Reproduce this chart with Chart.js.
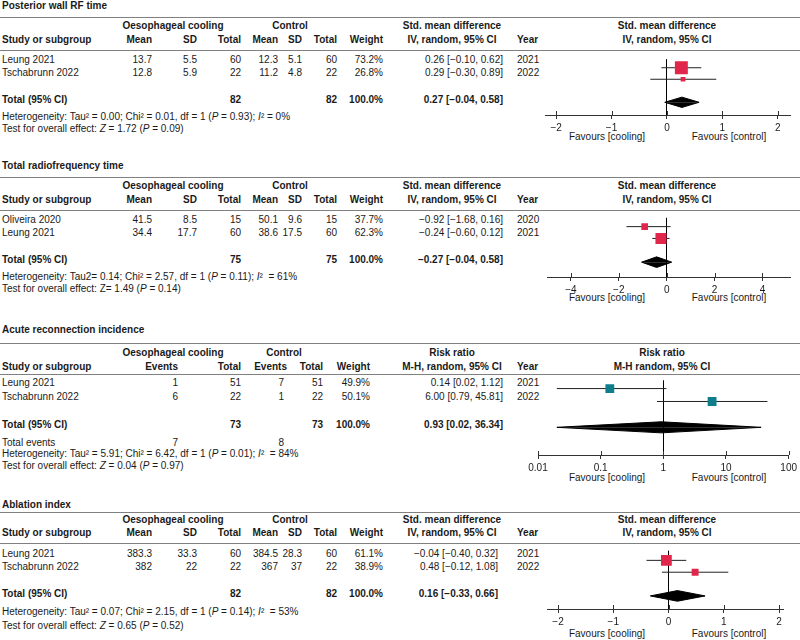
<!DOCTYPE html>
<html lang="en">
<head>
  <meta charset="utf-8">
  <title>Oesophageal cooling vs control</title>
  <script src="https://cdn.jsdelivr.net/npm/chart.js"></script>
  <style>
    body { margin: 0; background: #fff; }
    #page { position: relative; width: 800px; height: 640px; overflow: hidden;
            font-family: "Liberation Sans", Arial, Helvetica, sans-serif; font-size: 10px; color: #1a1a1a; }
    .t { position: absolute; white-space: nowrap; line-height: 12px; }
    .b { font-weight: bold; }
    .hr { position: absolute; left: 0; width: 800px; height: 1px; background: #808080; }
    canvas { position: absolute; }
  </style>
</head>
<body>
<div id="page"></div>

<script>
// ---- Posterior wall RF time
const p1Studies = ['Leung 2021', 'Tschabrunn 2022'];
const p1CoolMean = [13.7, 12.8];
const p1CoolSD = [5.5, 5.9];
const p1CoolN = [60, 22];
const p1CtrlMean = [12.3, 11.2];
const p1CtrlSD = [5.1, 4.8];
const p1CtrlN = [60, 22];
const p1Weight = [73.2, 26.8];
const p1Est = [0.26, 0.29];
const p1Lo = [-0.10, -0.30];
const p1Hi = [0.62, 0.89];
const p1Year = [2021, 2022];
const p1Pooled = [0.27, -0.04, 0.58];     // estimate, lower, upper
const p1Totals = [82, 82];
const p1Ticks = [-2, -1, 0, 1, 2];

// ---- Total radiofrequency time
const p2Studies = ['Oliveira 2020', 'Leung 2021'];
const p2CoolMean = [41.5, 34.4];
const p2CoolSD = [8.5, 17.7];
const p2CoolN = [15, 60];
const p2CtrlMean = [50.1, 38.6];
const p2CtrlSD = [9.6, 17.5];
const p2CtrlN = [15, 60];
const p2Weight = [37.7, 62.3];
const p2Est = [-0.92, -0.24];
const p2Lo = [-1.68, -0.60];
const p2Hi = [0.16, 0.12];
const p2Year = [2020, 2021];
const p2Pooled = [-0.27, -0.04, 0.58];    // as printed
const p2Diamond = [-0.42, -1.05, 0.21];   // as drawn in the figure
const p2Totals = [75, 75];
const p2Ticks = [-4, -2, 0, 2, 4];

// ---- Acute reconnection incidence
const p3Studies = ['Leung 2021', 'Tschabrunn 2022'];
const p3CoolEvents = [1, 6];
const p3CoolN = [51, 22];
const p3CtrlEvents = [7, 1];
const p3CtrlN = [51, 22];
const p3Weight = [49.9, 50.1];
const p3Est = [0.14, 6.00];
const p3Lo = [0.02, 0.79];
const p3Hi = [1.12, 45.81];
const p3Year = [2021, 2022];
const p3Pooled = [0.93, 0.02, 36.34];
const p3Totals = [73, 73];
const p3TotalEvents = [7, 8];
const p3Ticks = [0.01, 0.1, 1, 10, 100];

// ---- Ablation index
const p4Studies = ['Leung 2021', 'Tschabrunn 2022'];
const p4CoolMean = [383.3, 382];
const p4CoolSD = [33.3, 22];
const p4CoolN = [60, 22];
const p4CtrlMean = [384.5, 367];
const p4CtrlSD = [28.3, 37];
const p4CtrlN = [60, 22];
const p4Weight = [61.1, 38.9];
const p4Est = [-0.04, 0.48];
const p4Lo = [-0.40, -0.12];
const p4Hi = [0.32, 1.08];
const p4Year = [2021, 2022];
const p4Pooled = [0.16, -0.33, 0.66];
const p4Totals = [82, 82];
const p4Ticks = [-2, -1, 0, 1, 2];

const FONT = '"Liberation Sans", Arial, Helvetica, sans-serif';
Chart.defaults.font.family = FONT;
const page = document.getElementById('page');

function txt(x, y, s, opt = {}) {
  const el = document.createElement('span');
  el.className = 't' + (opt.bold ? ' b' : '');
  el.innerHTML = s;
  el.style.top = (y - 6) + 'px';
  if (opt.align === 'right') el.style.right = (800 - x) + 'px';
  else if (opt.align === 'center') { el.style.left = x + 'px'; el.style.transform = 'translateX(-50%)'; }
  else el.style.left = x + 'px';
  page.appendChild(el);
}
function hr(y) {
  const el = document.createElement('div');
  el.className = 'hr';
  el.style.top = y + 'px';
  page.appendChild(el);
}
const sgn = v => (v < 0 ? '\u2212' : '') + Math.abs(v).toFixed(2);
const ciText = (e, l, h) => sgn(e) + ' [' + sgn(l) + ', ' + sgn(h) + ']';
const pct = w => w.toFixed(1) + '%';
const R = { align: 'right' }, RB = { align: 'right', bold: 1 }, CB = { align: 'center', bold: 1 };

// table part of a continuous-outcome panel
function contTable(P) {
  const L = P.L;
  txt(2, L.title, P.title, { bold: 1 });
  hr(L.hr1); hr(L.hr2);
  txt(173, L.h1, 'Oesophageal cooling', CB);
  txt(290, L.h1, 'Control', CB);
  txt(2, L.h2, 'Study or subgroup', { bold: 1 });
  [['Mean', 152], ['SD', 197], ['Total', 241], ['Mean', 278], ['SD', 302], ['Total', 337], ['Weight', 383]]
    .forEach(([s, x]) => txt(x, L.h2, s, RB));
  txt(452, L.h1, 'Std. mean difference', CB);
  txt(452, L.h2, 'IV, random, 95% CI', CB);
  txt(517, L.h2, 'Year', { bold: 1 });
  P.studies.forEach((s, i) => {
    const y = L.row0 + i * L.pitch;
    txt(2, y, s);
    txt(152, y, String(P.coolMean[i]), R);
    txt(197, y, String(P.coolSD[i]), R);
    txt(241, y, String(P.coolN[i]), R);
    txt(278, y, String(P.ctrlMean[i]), R);
    txt(302, y, String(P.ctrlSD[i]), R);
    txt(337, y, String(P.ctrlN[i]), R);
    txt(383, y, pct(P.weight[i]), R);
    txt(P.ciRight, y, ciText(P.est[i], P.lo[i], P.hi[i]), R);
    txt(517, y, String(P.year[i]));
  });
  const ty = L.row0 + 3 * L.pitch;
  txt(2, ty, 'Total (95% CI)', { bold: 1 });
  txt(241, ty, String(P.totals[0]), RB);
  txt(337, ty, String(P.totals[1]), RB);
  txt(383, ty, '100.0%', RB);
  txt(P.ciRight, ty, ciText(P.pooled[0], P.pooled[1], P.pooled[2]), RB);
  P.notes.forEach((n, k) => txt(2, L.notes[k], n));
  txt(667, L.h1, 'Std. mean difference', CB);
  txt(667, L.h2, 'IV, random, 95% CI', CB);
  txt(607, L.fav, 'Favours [cooling]', { align: 'center' });
  txt(729, L.fav, 'Favours [control]', { align: 'center' });
}

// draws the tick marks above the axis line too, so they cross it
const tickCross = {
  id: 'tickCross',
  afterDraw(chart) {
    const xs = chart.scales.x, c = chart.ctx, b = chart.chartArea.bottom;
    c.save();
    c.strokeStyle = '#333';
    c.lineWidth = 1;
    xs.ticks.forEach(t => {
      const px = Math.round(xs.getPixelForValue(t.value)) + 0.5;
      c.beginPath(); c.moveTo(px, b - 4); c.lineTo(px, b); c.stroke();
    });
    c.restore();
  }
};

function forest(P) {
  const L = P.L, C = P.plot;
  const cv = document.createElement('canvas');
  const w = 800 - C.left, h = L.axis - L.hr2 + 30;
  cv.width = w; cv.height = h;
  cv.style.left = C.left + 'px';
  cv.style.top = L.hr2 + 'px';
  page.appendChild(cv);

  const yMin = -(L.row0 - L.hr2) / L.pitch;
  const yMax = yMin + (L.axis - L.hr2) / L.pitch;
  const T = 3, dh = 6 / L.pitch;
  const d = P.diamond;

  const datasets = [{
    label: 'Studies',
    data: P.est.map((e, i) => ({ x: e, y: i })),
    pointStyle: 'rect',
    pointRadius: P.weight.map(v => v * 0.125),
    pointBorderWidth: 0,
    backgroundColor: C.color,
    borderColor: C.color,
    order: 0
  }];
  P.est.forEach((e, i) => datasets.push({
    label: 'CI ' + P.studies[i],
    data: [{ x: P.lo[i], y: i }, { x: P.hi[i], y: i }],
    showLine: true, pointRadius: 0, borderColor: '#222', borderWidth: 1, order: 1
  }));
  // pooled diamond: upper and lower halves, each filled to the total row
  [-dh, dh].forEach(off => datasets.push({
    label: 'Pooled',
    data: [{ x: d[1], y: T }, { x: d[0], y: T + off }, { x: d[2], y: T }],
    showLine: true, pointRadius: 0, tension: 0, borderColor: '#000', borderWidth: 1,
    backgroundColor: '#000', fill: { value: T }, order: 2
  }));

  new Chart(cv.getContext('2d'), {
    type: 'scatter',
    data: { datasets },
    options: {
      responsive: false,
      animation: false,
      events: [],
      layout: { padding: { left: C.padL, right: C.padR, top: 0, bottom: 0 } },
      plugins: { legend: { display: false }, tooltip: { enabled: false } },
      scales: {
        x: {
          type: C.log ? 'logarithmic' : 'linear',
          min: C.min, max: C.max,
          afterBuildTicks: s => { s.ticks = C.ticks.map(v => ({ value: v })); },
          afterFit: s => { s.height = 30; },
          grid: {
            drawOnChartArea: true,
            color: c => (c.tick && c.tick.value === C.nullVal) ? '#000' : 'rgba(0,0,0,0)',
            tickColor: '#333', tickLength: 4, lineWidth: 1
          },
          border: { color: '#333', width: 1 },
          ticks: {
            color: '#1a1a1a', font: { size: 10 }, padding: 3, maxRotation: 0, autoSkip: false,
            callback: v => (v < 0 ? '\u2212' + Math.abs(v) : String(v))
          }
        },
        y: { type: 'linear', display: false, reverse: true, min: yMin, max: yMax }
      }
    },
    plugins: [tickCross]
  });
}

const RED = '#E0264A', TEAL = '#0E7E8A';

const panel1 = {
  title: 'Posterior wall RF time',
  L: { title: 6, hr1: 17, h1: 26, h2: 40, hr2: 50, row0: 60, pitch: 13.4, notes: [117, 129], axis: 115, fav: 137 },
  studies: p1Studies, coolMean: p1CoolMean, coolSD: p1CoolSD, coolN: p1CoolN,
  ctrlMean: p1CtrlMean, ctrlSD: p1CtrlSD, ctrlN: p1CtrlN, weight: p1Weight,
  est: p1Est, lo: p1Lo, hi: p1Hi, year: p1Year, pooled: p1Pooled, diamond: p1Pooled, totals: p1Totals,
  ciRight: 503,
  notes: ['Heterogeneity: Tau² = 0.00; Chi² = 0.01, df = 1 (<i>P</i> = 0.93); <i>I</i>² = 0%',
          'Test for overall effect: <i>Z</i> = 1.72 (<i>P</i> = 0.09)'],
  plot: { left: 530, padL: 15, padR: 10, min: -2.2, max: 2.22, ticks: p1Ticks, nullVal: 0, color: RED }
};
const panel2 = {
  title: 'Total radiofrequency time',
  L: { title: 166, hr1: 177, h1: 186, h2: 200, hr2: 210, row0: 220, pitch: 13.4, notes: [277, 289], axis: 277, fav: 298 },
  studies: p2Studies, coolMean: p2CoolMean, coolSD: p2CoolSD, coolN: p2CoolN,
  ctrlMean: p2CtrlMean, ctrlSD: p2CtrlSD, ctrlN: p2CtrlN, weight: p2Weight,
  est: p2Est, lo: p2Lo, hi: p2Hi, year: p2Year, pooled: p2Pooled, diamond: p2Diamond, totals: p2Totals,
  ciRight: 503,
  notes: ['Heterogeneity: Tau2= 0.14; Chi² = 2.57, df = 1 (<i>P</i> = 0.11); <i>I</i>² &nbsp;= 61%',
          'Test for overall effect: Z= 1.49 (<i>P</i> = 0.14)'],
  plot: { left: 530, padL: 17, padR: 10, min: -5, max: 5.15, ticks: p2Ticks, nullVal: 0, color: RED }
};
const panel4 = {
  title: 'Ablation index',
  L: { title: 505, hr1: 512, h1: 520, h2: 533, hr2: 543, row0: 554, pitch: 13.4, notes: [612, 626], axis: 609, fav: 634 },
  studies: p4Studies, coolMean: p4CoolMean, coolSD: p4CoolSD, coolN: p4CoolN,
  ctrlMean: p4CtrlMean, ctrlSD: p4CtrlSD, ctrlN: p4CtrlN, weight: p4Weight,
  est: p4Est, lo: p4Lo, hi: p4Hi, year: p4Year, pooled: p4Pooled, diamond: p4Pooled, totals: p4Totals,
  ciRight: 498,
  notes: ['Heterogeneity: Tau² = 0.07; Chi² = 2.15, df = 1 (<i>P</i> = 0.14); <i>I</i>² &nbsp;= 53%',
          'Test for overall effect: <i>Z</i> = 0.65 (<i>P</i> = 0.52)'],
  plot: { left: 530, padL: 17, padR: 17, min: -2.2, max: 2.07, ticks: p4Ticks, nullVal: 0, color: RED }
};

[panel1, panel2, panel4].forEach(P => { contTable(P); forest(P); });

// ---- dichotomous panel (risk ratio)
const panel3 = {
  title: 'Acute reconnection incidence',
  L: { title: 330, hr1: 343, h1: 353, h2: 367, hr2: 374, row0: 383, pitch: 14, notes: [443, 454, 466], axis: 455, fav: 478 },
  studies: p3Studies, weight: p3Weight, est: p3Est, lo: p3Lo, hi: p3Hi, diamond: p3Pooled,
  plot: { left: 520, padL: 18, padR: 11, log: true, min: 0.01, max: 100, ticks: p3Ticks, nullVal: 1, color: TEAL }
};
(function () {
  const L = panel3.L;
  txt(2, L.title, panel3.title, { bold: 1 });
  hr(L.hr1); hr(L.hr2);
  txt(173, L.h1, 'Oesophageal cooling', CB);
  txt(284, L.h1, 'Control', CB);
  txt(2, L.h2, 'Study or subgroup', { bold: 1 });
  [['Events', 178], ['Total', 241], ['Events', 287], ['Total', 323], ['Weight', 370]]
    .forEach(([s, x]) => txt(x, L.h2, s, RB));
  txt(452, L.h1, 'Risk ratio', CB);
  txt(452, L.h2, 'M-H, random, 95% CI', CB);
  txt(517, L.h2, 'Year', { bold: 1 });
  p3Studies.forEach((s, i) => {
    const y = L.row0 + i * L.pitch;
    txt(2, y, s);
    txt(178, y, String(p3CoolEvents[i]), R);
    txt(241, y, String(p3CoolN[i]), R);
    txt(284, y, String(p3CtrlEvents[i]), R);
    txt(323, y, String(p3CtrlN[i]), R);
    txt(370, y, pct(p3Weight[i]), R);
    txt(503, y, ciText(p3Est[i], p3Lo[i], p3Hi[i]), R);
    txt(517, y, String(p3Year[i]));
  });
  const ty = L.row0 + 3 * L.pitch;
  txt(2, ty, 'Total (95% CI)', { bold: 1 });
  txt(241, ty, String(p3Totals[0]), RB);
  txt(323, ty, String(p3Totals[1]), RB);
  txt(370, ty, '100.0%', RB);
  txt(503, ty, ciText(p3Pooled[0], p3Pooled[1], p3Pooled[2]), RB);
  txt(2, L.notes[0], 'Total events');
  txt(178, L.notes[0], String(p3TotalEvents[0]), R);
  txt(284, L.notes[0], String(p3TotalEvents[1]), R);
  txt(2, L.notes[1], 'Heterogeneity: Tau² = 5.91; Chi² = 6.42, df = 1 (<i>P</i> = 0.01); <i>I</i>² &nbsp;= 84%');
  txt(2, L.notes[2], 'Test for overall effect: <i>Z</i> = 0.04 (<i>P</i> = 0.97)');
  txt(662, L.h1, 'Risk ratio', CB);
  txt(662, L.h2, 'M-H random, 95% CI', CB);
  txt(607, L.fav, 'Favours [cooling]', { align: 'center' });
  txt(729, L.fav, 'Favours [control]', { align: 'center' });
  forest(panel3);
})();
</script>
</body>
</html>
